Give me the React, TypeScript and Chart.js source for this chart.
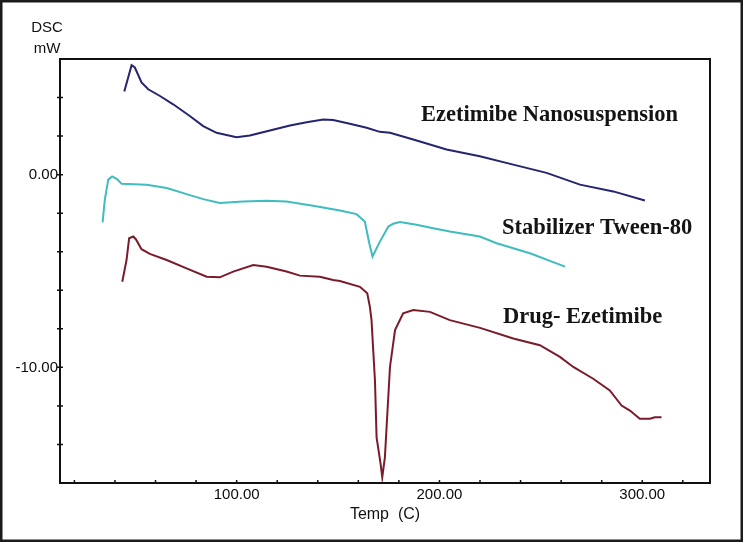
import { useEffect, useRef } from 'react';
import { Chart, registerables } from 'chart.js';

Chart.register(...registerables);

// Ezetimibe Nanosuspension
const nanoTemp = [44.6, 48.2, 49.8, 53.1, 56.4, 62.2, 68.7, 76.9, 83.5, 90.1, 99.9, 106.5, 116.4, 126.3, 134.5, 142.7, 147.6, 155.8, 164.1, 170.6, 175.6, 187.1, 203.5, 219.9, 236.4, 252.8, 269.3, 285.7, 301.3];
const nanoDsc = [4.31, 5.68, 5.56, 4.78, 4.43, 4.08, 3.65, 3.04, 2.52, 2.17, 1.94, 2.03, 2.29, 2.55, 2.72, 2.86, 2.83, 2.64, 2.43, 2.22, 2.17, 1.82, 1.30, 0.95, 0.52, 0.09, -0.52, -0.87, -1.34];

// Stabilizer Tween-80
const tweenTemp = [33.9, 35.0, 36.7, 38.6, 40.8, 43.3, 55.6, 65.5, 75.3, 83.5, 91.7, 103.2, 114.8, 124.6, 137.7, 150.9, 159.1, 163.2, 165.4, 167.0, 170.5, 174.8, 177.2, 180.5, 188.7, 196.9, 205.1, 219.9, 228.2, 244.6, 261.9];
const tweenDsc = [-2.48, -1.30, -0.26, -0.09, -0.22, -0.47, -0.52, -0.69, -1.01, -1.27, -1.47, -1.39, -1.35, -1.39, -1.61, -1.86, -2.05, -2.43, -3.56, -4.25, -3.50, -2.69, -2.55, -2.46, -2.60, -2.78, -2.95, -3.21, -3.56, -4.08, -4.77];

// Drug- Ezetimibe
const drugTemp = [43.6, 45.7, 47.0, 49.0, 50.3, 53.1, 57.2, 65.5, 75.3, 85.2, 91.7, 98.3, 108.2, 114.8, 124.6, 131.2, 141.0, 147.6, 150.9, 160.8, 164.4, 165.7, 166.5, 168.2, 169.0, 171.0, 171.8, 173.1, 174.3, 175.6, 178.1, 182.1, 187.1, 195.3, 205.1, 220.0, 236.4, 249.5, 259.4, 266.0, 275.8, 284.0, 289.8, 293.9, 298.8, 303.8, 306.2, 309.5];
const drugDsc = [-5.56, -4.43, -3.30, -3.21, -3.35, -3.87, -4.11, -4.43, -4.86, -5.30, -5.33, -5.03, -4.69, -4.78, -5.03, -5.24, -5.30, -5.47, -5.52, -5.82, -6.16, -6.86, -7.55, -10.68, -13.63, -15.02, -15.70, -14.67, -12.41, -9.98, -8.07, -7.20, -7.03, -7.12, -7.55, -7.95, -8.50, -8.85, -9.46, -9.98, -10.59, -11.20, -11.98, -12.24, -12.67, -12.67, -12.59, -12.59];

const seriesLabels = ['Ezetimibe Nanosuspension', 'Stabilizer Tween-80', 'Drug- Ezetimibe'];
const xTickValues = [20, 40, 60, 80, 100, 120, 140, 160, 180, 200, 220, 240, 260, 280, 300, 320];
const xLabelValues = [100, 200, 300];
const yTickValues = [4, 2, 0, -2, -4, -6, -8, -10, -12, -14];
const yLabelValues = [0, -10];
const yTitleLines = ['DSC', 'mW'];
const xTitle = 'Temp  (C)';

export default function App() {
  const ref = useRef<HTMLCanvasElement>(null);

  useEffect(() => {
    if (!ref.current) return;
    const toPts = (t: number[], v: number[]) => t.map((x, i) => ({ x, y: v[i] }));

    const framePlugin = {
      id: 'frame',
      afterDraw(chart: any) {
        const { ctx, chartArea: a, scales } = chart;
        const xs = scales.x;
        const ys = scales.y;
        ctx.save();
        // outer picture border
        ctx.strokeStyle = '#1b1b1b';
        ctx.lineWidth = 2.5;
        ctx.strokeRect(1.25, 1.25, chart.width - 2.5, chart.height - 2.5);
        // plot frame
        ctx.strokeStyle = '#111';
        ctx.lineWidth = 2;
        ctx.strokeRect(a.left, a.top, a.right - a.left, a.bottom - a.top);
        // tick marks
        ctx.lineWidth = 1.5;
        ctx.beginPath();
        xTickValues.forEach((v) => {
          const px = xs.getPixelForValue(v);
          ctx.moveTo(px, a.bottom);
          ctx.lineTo(px, a.bottom - 3);
        });
        yTickValues.forEach((v) => {
          const py = ys.getPixelForValue(v);
          ctx.moveTo(a.left - 3, py);
          ctx.lineTo(a.left + 3, py);
        });
        ctx.stroke();
        // axis titles
        ctx.fillStyle = '#111';
        ctx.textAlign = 'center';
        ctx.textBaseline = 'middle';
        ctx.font = '15px "Liberation Sans", Arial, sans-serif';
        ctx.fillText(yTitleLines[0], 47, 28);
        ctx.fillText(yTitleLines[1], 47, 49);
        ctx.font = '16px "Liberation Sans", Arial, sans-serif';
        ctx.fillText(xTitle, (a.left + a.right) / 2, 515);
        // series annotations
        ctx.fillStyle = '#141414';
        ctx.textAlign = 'left';
        ctx.textBaseline = 'alphabetic';
        ctx.font = 'bold 22.5px "Liberation Serif", "Times New Roman", serif';
        ctx.fillText(seriesLabels[0], 421, 121);
        ctx.fillText(seriesLabels[1], 502, 234);
        ctx.fillText(seriesLabels[2], 503, 323);
        ctx.restore();
      },
    };

    const chart = new Chart(ref.current, {
      type: 'line',
      data: {
        datasets: [
          { label: seriesLabels[0], data: toPts(nanoTemp, nanoDsc), borderColor: '#25246e', borderWidth: 2 },
          { label: seriesLabels[1], data: toPts(tweenTemp, tweenDsc), borderColor: '#3fbcbf', borderWidth: 2 },
          { label: seriesLabels[2], data: toPts(drugTemp, drugDsc), borderColor: '#7a1b2c', borderWidth: 2 },
        ],
      },
      options: {
        animation: false,
        responsive: false,
        devicePixelRatio: 1,
        elements: { point: { radius: 0 }, line: { tension: 0 } },
        layout: { padding: { left: 0, top: 59, right: 33, bottom: 0 } },
        plugins: { legend: { display: false }, tooltip: { enabled: false } },
        scales: {
          x: {
            type: 'linear',
            min: 12.9,
            max: 333.4,
            grid: { display: false, drawTicks: false },
            border: { display: false },
            afterFit: (s: any) => { s.height = 59; },
            afterBuildTicks: (s: any) => { s.ticks = xLabelValues.map((v) => ({ value: v })); },
            ticks: {
              autoSkip: false,
              maxRotation: 0,
              padding: 3,
              color: '#0a0a0a',
              font: { family: '"Liberation Sans", Arial, sans-serif', size: 15 },
              callback: (v: any) => Number(v).toFixed(2),
            },
          },
          y: {
            type: 'linear',
            min: -16,
            max: 6,
            grid: { display: false, drawTicks: false },
            border: { display: false },
            afterFit: (s: any) => { s.width = 60; },
            afterBuildTicks: (s: any) => { s.ticks = yLabelValues.map((v) => ({ value: v })); },
            ticks: {
              autoSkip: false,
              padding: 2,
              color: '#0a0a0a',
              font: { family: '"Liberation Sans", Arial, sans-serif', size: 15 },
              callback: (v: any) => Number(v).toFixed(2),
            },
          },
        },
      },
      plugins: [framePlugin],
    });
    return () => chart.destroy();
  }, []);

  return (
    <div style={{ position: 'absolute', left: 0, top: 0, width: 743, height: 542, background: '#fff' }}>
      <canvas ref={ref} width={743} height={542} style={{ display: 'block' }} />
    </div>
  );
}
